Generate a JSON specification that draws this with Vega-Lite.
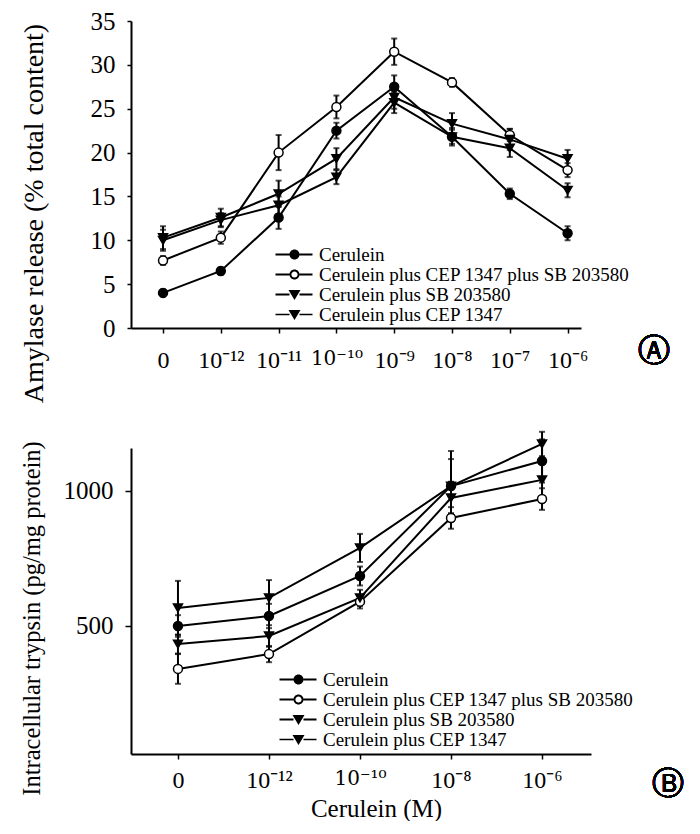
{
  "$schema": "https://vega.github.io/schema/vega-lite/v6.json",
  "background": "white",
  "padding": {"left": 18, "top": 9, "right": 0, "bottom": 0},
  "autosize": {"type": "pad"},
  "bounds": "flush",
  "spacing": 120,
  "config": {
    "view": {"stroke": null},
    "font": "Liberation Serif",
    "axis": {"grid": false, "domainColor": "black", "domainWidth": 2, "tickColor": "black", "tickWidth": 1.5, "tickSize": 5, "labelColor": "black", "titleColor": "black", "labelFont": "Liberation Serif", "titleFont": "Liberation Serif", "titleFontWeight": "normal"},
    "legend": {"labelFont": "Liberation Serif", "labelFontSize": 19, "labelColor": "black", "labelLimit": 500, "symbolSize": 100, "symbolStrokeWidth": 0, "labelOffset": 15, "rowPadding": 0, "padding": 0}
  },
  "datasets": {
    "a": [
      {"series": "Cerulein", "i": 0, "v": 4.0, "e": 0.4},
      {"series": "Cerulein", "i": 1, "v": 6.5, "e": 0.4},
      {"series": "Cerulein", "i": 2, "v": 12.6, "e": 1.3},
      {"series": "Cerulein", "i": 3, "v": 22.5, "e": 0.9},
      {"series": "Cerulein", "i": 4, "v": 27.5, "e": 1.3},
      {"series": "Cerulein", "i": 5, "v": 21.8, "e": 0.8},
      {"series": "Cerulein", "i": 6, "v": 15.3, "e": 0.6},
      {"series": "Cerulein", "i": 7, "v": 10.8, "e": 0.8},
      {"series": "Cerulein plus CEP 1347 plus SB 203580", "i": 0, "v": 7.7, "e": 0.5},
      {"series": "Cerulein plus CEP 1347 plus SB 203580", "i": 1, "v": 10.3, "e": 0.7},
      {"series": "Cerulein plus CEP 1347 plus SB 203580", "i": 2, "v": 20.0, "e": 2.0},
      {"series": "Cerulein plus CEP 1347 plus SB 203580", "i": 3, "v": 25.2, "e": 1.3},
      {"series": "Cerulein plus CEP 1347 plus SB 203580", "i": 4, "v": 31.5, "e": 1.5},
      {"series": "Cerulein plus CEP 1347 plus SB 203580", "i": 5, "v": 28.0, "e": 0.5},
      {"series": "Cerulein plus CEP 1347 plus SB 203580", "i": 6, "v": 22.0, "e": 0.7},
      {"series": "Cerulein plus CEP 1347 plus SB 203580", "i": 7, "v": 18.0, "e": 0.8},
      {"series": "Cerulein plus SB 203580", "i": 0, "v": 10.3, "e": 1.3},
      {"series": "Cerulein plus SB 203580", "i": 1, "v": 12.6, "e": 1.0},
      {"series": "Cerulein plus SB 203580", "i": 2, "v": 15.3, "e": 1.5},
      {"series": "Cerulein plus SB 203580", "i": 3, "v": 19.3, "e": 1.2},
      {"series": "Cerulein plus SB 203580", "i": 4, "v": 26.3, "e": 1.3},
      {"series": "Cerulein plus SB 203580", "i": 5, "v": 23.3, "e": 1.2},
      {"series": "Cerulein plus SB 203580", "i": 6, "v": 21.5, "e": 1.2},
      {"series": "Cerulein plus SB 203580", "i": 7, "v": 19.3, "e": 1.0},
      {"series": "Cerulein plus CEP 1347", "i": 0, "v": 10.0, "e": 1.2},
      {"series": "Cerulein plus CEP 1347", "i": 1, "v": 12.3, "e": 0.8},
      {"series": "Cerulein plus CEP 1347", "i": 2, "v": 14.0, "e": 1.0},
      {"series": "Cerulein plus CEP 1347", "i": 3, "v": 17.2, "e": 0.8},
      {"series": "Cerulein plus CEP 1347", "i": 4, "v": 25.7, "e": 1.2},
      {"series": "Cerulein plus CEP 1347", "i": 5, "v": 21.8, "e": 1.0},
      {"series": "Cerulein plus CEP 1347", "i": 6, "v": 20.5, "e": 1.0},
      {"series": "Cerulein plus CEP 1347", "i": 7, "v": 15.7, "e": 0.8}
    ],
    "b": [
      {"series": "Cerulein", "i": 0, "v": 500, "e": 40},
      {"series": "Cerulein", "i": 1, "v": 537, "e": 45},
      {"series": "Cerulein", "i": 2, "v": 685, "e": 35},
      {"series": "Cerulein", "i": 3, "v": 1018, "e": 100},
      {"series": "Cerulein", "i": 4, "v": 1111, "e": 80},
      {"series": "Cerulein plus CEP 1347 plus SB 203580", "i": 0, "v": 341, "e": 55},
      {"series": "Cerulein plus CEP 1347 plus SB 203580", "i": 1, "v": 396, "e": 30},
      {"series": "Cerulein plus CEP 1347 plus SB 203580", "i": 2, "v": 590, "e": 25},
      {"series": "Cerulein plus CEP 1347 plus SB 203580", "i": 3, "v": 900, "e": 40},
      {"series": "Cerulein plus CEP 1347 plus SB 203580", "i": 4, "v": 970, "e": 40},
      {"series": "Cerulein plus SB 203580", "i": 0, "v": 567, "e": 100},
      {"series": "Cerulein plus SB 203580", "i": 1, "v": 604, "e": 66},
      {"series": "Cerulein plus SB 203580", "i": 2, "v": 789, "e": 52},
      {"series": "Cerulein plus SB 203580", "i": 3, "v": 1018, "e": 130},
      {"series": "Cerulein plus SB 203580", "i": 4, "v": 1174, "e": 45},
      {"series": "Cerulein plus CEP 1347", "i": 0, "v": 433, "e": 35},
      {"series": "Cerulein plus CEP 1347", "i": 1, "v": 463, "e": 40},
      {"series": "Cerulein plus CEP 1347", "i": 2, "v": 604, "e": 30},
      {"series": "Cerulein plus CEP 1347", "i": 3, "v": 974, "e": 60},
      {"series": "Cerulein plus CEP 1347", "i": 4, "v": 1041, "e": 70}
    ]
  },
  "resolve": {
    "scale": {"x": "independent", "y": "independent", "shape": "independent", "fill": "independent"},
    "legend": {"shape": "independent", "fill": "independent"}
  },
  "vconcat": [
    {
      "width": 450,
      "height": 307,
      "data": {"name": "a"},
      "resolve": {"scale": {"shape": "independent", "fill": "independent"}, "legend": {"shape": "independent", "fill": "independent"}},
      "encoding": {
        "x": {"field": "i", "type": "quantitative", "scale": {"domain": [-0.554, 7.232], "nice": false, "zero": false},
              "axis": {"title": null, "values": [0, 1, 2, 3, 4, 5, 6, 7], "labelExpr": "['0','10⁻¹²','10⁻¹¹','10⁻¹⁰','10⁻⁹','10⁻⁸','10⁻⁷','10⁻⁶'][datum.value]", "labelFontSize": {"condition": {"test": "datum.value === 3", "value": 20}, "value": 24}, "labelPadding": 15,
                       "labelFont": {"condition": {"test": "datum.value === 3", "value": "DejaVu Serif"}, "value": "Liberation Serif"}}},
        "y": {"field": "v", "type": "quantitative", "scale": {"domain": [0, 35], "nice": false},
              "axis": {"title": "Amylase release (% total content)", "values": [0, 5, 10, 15, 20, 25, 30, 35], "labelFontSize": 25, "labelPadding": 12, "tickSize": 4, "titleFontSize": 28, "titleAngle": -90, "titleBaseline": "top", "titleAlign": "center", "titleX": -111, "titleY": 192}}
      },
      "layer": [
        {"mark": {"type": "errorbar", "ticks": {"size": 6}, "thickness": 2, "color": "black"},
         "encoding": {"yError": {"field": "e"}}},
        {"mark": {"type": "line", "color": "black", "strokeWidth": 2},
         "encoding": {"detail": {"field": "series"}}},
        {"mark": {"type": "point", "opacity": 1, "stroke": "black", "strokeWidth": 1.5, "size": 80},
         "encoding": {
           "shape": {"field": "series", "type": "nominal", "legend": null,
             "scale": {"domain": ["Cerulein", "Cerulein plus CEP 1347 plus SB 203580", "Cerulein plus SB 203580", "Cerulein plus CEP 1347"], "range": ["circle", "circle", "triangle-down", "triangle-down"]}},
           "fill": {"field": "series", "type": "nominal", "legend": null,
             "scale": {"domain": ["Cerulein", "Cerulein plus CEP 1347 plus SB 203580", "Cerulein plus SB 203580", "Cerulein plus CEP 1347"], "range": ["black", "white", "black", "black"]}}
         }},
        {"transform": [{"filter": "datum.i < 0"}],
         "mark": {"type": "point", "filled": true, "opacity": 1, "color": "black", "size": 100},
         "encoding": {
           "shape": {"field": "series", "type": "nominal",
             "scale": {"domain": ["Cerulein", "Cerulein plus CEP 1347 plus SB 203580", "Cerulein plus SB 203580", "Cerulein plus CEP 1347"],
                       "range": ["M-3.8,-0.2H-1V0.2H-3.8Z M1,-0.2H3.6V0.2H1Z M1,0A1,1,0,1,1,-1,0A1,1,0,1,1,1,0Z",
                                 "M-3.8,-0.2H-1V0.2H-3.8Z M1,-0.2H3.6V0.2H1Z M1,0A1,1,0,1,1,-1,0A1,1,0,1,1,1,0Z M0.62,0A0.62,0.62,0,1,0,-0.62,0A0.62,0.62,0,1,0,0.62,0Z",
                                 "M-3.8,-0.2H-1V0.2H-3.8Z M1,-0.2H3.6V0.2H1Z M-1.2,-0.9L1.2,-0.9L0,1.1Z",
                                 "M-3.8,-0.15H-1V0.15H-3.8Z M1,-0.15H3.6V0.15H1Z M-1.2,-0.9L1.2,-0.9L0,1.1Z"]},
             "legend": {"title": null, "orient": "none", "legendX": 154, "legendY": 224}}
         }},
        {"mark": {"type": "text", "text": "Ⓐ", "font": "DejaVu Sans", "fontSize": 32, "color": "black"},
         "encoding": {"x": {"datum": 8.5, "type": "quantitative"}, "y": {"datum": -2.6, "type": "quantitative"}}}
      ]
    },
    {
      "width": 460,
      "height": 306,
      "data": {"name": "b"},
      "resolve": {"scale": {"shape": "independent", "fill": "independent"}, "legend": {"shape": "independent", "fill": "independent"}},
      "encoding": {
        "x": {"field": "i", "type": "quantitative", "scale": {"domain": [-0.516, 4.538], "nice": false, "zero": false},
              "axis": {"title": "Cerulein (M)", "titleFontSize": 25, "titlePadding": 4, "titleX": 245, "values": [0, 1, 2, 3, 4], "labelExpr": "['0','10⁻¹²','10⁻¹⁰','10⁻⁸','10⁻⁶'][datum.value]", "labelFontSize": {"condition": {"test": "datum.value === 2", "value": 20}, "value": 24}, "labelPadding": 9,
                       "labelFont": {"condition": {"test": "datum.value === 2", "value": "DejaVu Serif"}, "value": "Liberation Serif"}}},
        "y": {"field": "v", "type": "quantitative", "scale": {"domain": [26, 1159], "nice": false, "zero": false},
              "axis": {"title": "Intracellular trypsin (pg/mg protein)", "values": [500, 1000], "format": "d", "labelFontSize": 25, "labelPadding": 12, "tickSize": 6, "titleFontSize": 24.5, "titleAngle": -90, "titleBaseline": "top", "titleAlign": "center", "titleX": -111, "titleY": 170}}
      },
      "layer": [
        {"mark": {"type": "errorbar", "ticks": {"size": 6}, "thickness": 2, "color": "black", "clip": false},
         "encoding": {"yError": {"field": "e"}}},
        {"mark": {"type": "line", "color": "black", "strokeWidth": 2},
         "encoding": {"detail": {"field": "series"}}},
        {"mark": {"type": "point", "opacity": 1, "stroke": "black", "strokeWidth": 1.5, "size": 80},
         "encoding": {
           "shape": {"field": "series", "type": "nominal", "legend": null,
             "scale": {"domain": ["Cerulein", "Cerulein plus CEP 1347 plus SB 203580", "Cerulein plus SB 203580", "Cerulein plus CEP 1347"], "range": ["circle", "circle", "triangle-down", "triangle-down"]}},
           "fill": {"field": "series", "type": "nominal", "legend": null,
             "scale": {"domain": ["Cerulein", "Cerulein plus CEP 1347 plus SB 203580", "Cerulein plus SB 203580", "Cerulein plus CEP 1347"], "range": ["black", "white", "black", "black"]}}
         }},
        {"transform": [{"filter": "datum.i < 0"}],
         "mark": {"type": "point", "filled": true, "opacity": 1, "color": "black", "size": 100},
         "encoding": {
           "shape": {"field": "series", "type": "nominal",
             "scale": {"domain": ["Cerulein", "Cerulein plus CEP 1347 plus SB 203580", "Cerulein plus SB 203580", "Cerulein plus CEP 1347"],
                       "range": ["M-3.8,-0.2H-1V0.2H-3.8Z M1,-0.2H3.6V0.2H1Z M1,0A1,1,0,1,1,-1,0A1,1,0,1,1,1,0Z",
                                 "M-3.8,-0.2H-1V0.2H-3.8Z M1,-0.2H3.6V0.2H1Z M1,0A1,1,0,1,1,-1,0A1,1,0,1,1,1,0Z M0.62,0A0.62,0.62,0,1,0,-0.62,0A0.62,0.62,0,1,0,0.62,0Z",
                                 "M-3.8,-0.2H-1V0.2H-3.8Z M1,-0.2H3.6V0.2H1Z M-1.2,-0.9L1.2,-0.9L0,1.1Z",
                                 "M-3.8,-0.15H-1V0.15H-3.8Z M1,-0.15H3.6V0.15H1Z M-1.2,-0.9L1.2,-0.9L0,1.1Z"]},
             "legend": {"title": null, "orient": "none", "legendX": 158, "legendY": 222}}
         }},
        {"mark": {"type": "text", "text": "Ⓑ", "font": "DejaVu Sans", "fontSize": 32, "color": "black"},
         "encoding": {"x": {"datum": 5.38, "type": "quantitative"}, "y": {"datum": -85, "type": "quantitative"}}}
      ]
    }
  ]
}
